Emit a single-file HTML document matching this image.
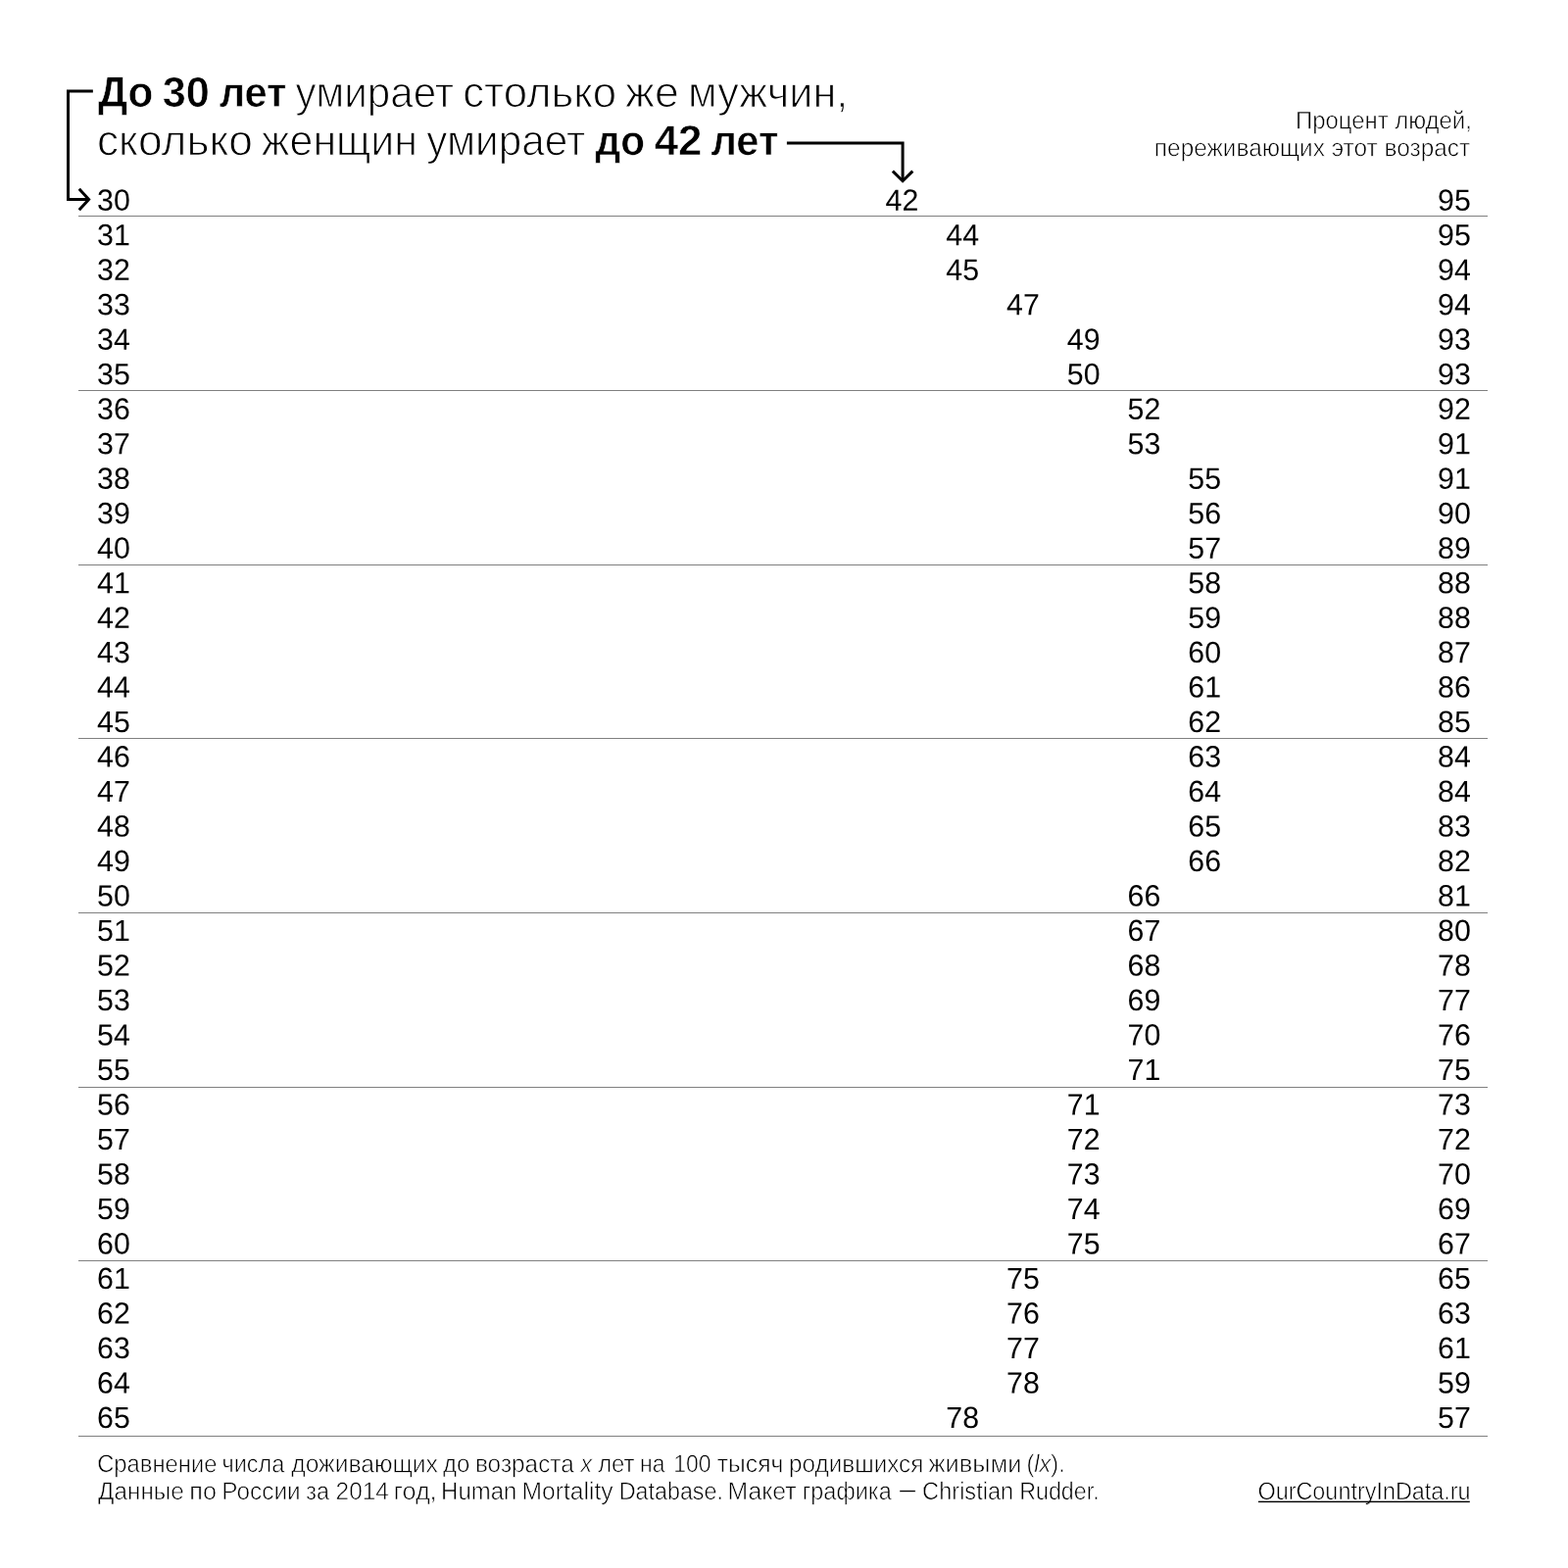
<!DOCTYPE html>
<html lang="ru"><head><meta charset="utf-8"><title>До 30 лет умирает столько же мужчин, сколько женщин умирает до 42 лет</title>
<style>
html,body{margin:0;padding:0;background:#fff}
svg{display:block}
text{font-family:"Liberation Sans",sans-serif;fill:#000}
.b{font-weight:700;stroke:#fff;stroke-width:0.6px}
.l{stroke:#fff;stroke-width:1.1px}
.s{stroke:#fff;stroke-width:0.6px}
.n{font-size:30.7px}
.rule{stroke:#808080;stroke-width:1}
.arr{fill:none;stroke:#000;stroke-width:3}
</style></head><body>
<svg width="1600" height="1600" viewBox="0 0 1600 1600">
<rect width="1600" height="1600" fill="#fff"/>
<line class="rule" x1="80" y1="220.5" x2="1518" y2="220.5"/>
<line class="rule" x1="80" y1="398.5" x2="1518" y2="398.5"/>
<line class="rule" x1="80" y1="576.5" x2="1518" y2="576.5"/>
<line class="rule" x1="80" y1="753.5" x2="1518" y2="753.5"/>
<line class="rule" x1="80" y1="931.5" x2="1518" y2="931.5"/>
<line class="rule" x1="80" y1="1109.5" x2="1518" y2="1109.5"/>
<line class="rule" x1="80" y1="1286.5" x2="1518" y2="1286.5"/>
<line class="rule" x1="80" y1="1465.5" x2="1518" y2="1465.5"/>
<path class="arr" d="M94.85 92.95 H69.5 V203.5 H90.6"/>
<path class="arr" d="M80.8 192.7 L90.6 203.5 L80.8 214.3"/>
<path class="arr" d="M802.9 145.9 H921.1 V184.7"/>
<path class="arr" d="M910.9 174.6 L921.1 184.7 L931.3 174.6"/>
<text class="b" font-size="43.75" transform="matrix(0.9650 0.0005 0 1 99.88 108.85)">До</text>
<text class="b" font-size="43.12" transform="matrix(1.0034 0.0005 0 1 165.74 108.85)">30</text>
<text class="b" font-size="42.42" transform="matrix(0.9794 0.0005 0 1 223.67 108.85)">лет</text>
<text class="l" font-size="43.75" transform="matrix(0.9646 0.0005 0 1 301.54 109.10)">умирает</text>
<text class="l" font-size="43.75" transform="matrix(0.9993 0.0005 0 1 472.25 109.10)">столько</text>
<text class="l" font-size="43.75" transform="matrix(1.0211 0.0005 0 1 638.12 109.10)">же</text>
<text class="l" font-size="43.75" transform="matrix(0.9882 0.0005 0 1 702.04 109.10)">мужчин,</text>
<text class="l" font-size="43.75" transform="matrix(1.0122 0.0005 0 1 98.97 158.15)">сколько</text>
<text class="l" font-size="43.75" transform="matrix(0.9803 0.0005 0 1 266.87 158.15)">женщин</text>
<text class="l" font-size="43.75" transform="matrix(0.9679 0.0005 0 1 435.28 158.15)">умирает</text>
<text class="b" font-size="42.42" transform="matrix(0.9572 0.0005 0 1 607.42 157.90)">до</text>
<text class="b" font-size="43.12" transform="matrix(1.0178 0.0005 0 1 667.68 157.90)">42</text>
<text class="b" font-size="42.42" transform="matrix(0.9809 0.0005 0 1 725.46 157.90)">лет</text>
<text class="s" font-size="25.19" transform="matrix(0.9494 0.0005 0 1 1321.96 131.20)">Процент людей,</text>
<text class="s" font-size="25.19" transform="matrix(0.9688 0.0005 0 1 1177.86 159.20)">переживающих этот возраст</text>
<text class="s" font-size="25.19" transform="matrix(0.9439 0.0005 0 1 99.18 1502.10)">Сравнение</text>
<text class="s" font-size="25.19" transform="matrix(0.9308 0.0005 0 1 226.47 1502.10)">числа</text>
<text class="s" font-size="25.19" transform="matrix(0.9802 0.0005 0 1 297.26 1502.10)">доживающих</text>
<text class="s" font-size="25.19" transform="matrix(0.9570 0.0005 0 1 452.02 1502.10)">до</text>
<text class="s" font-size="25.19" transform="matrix(0.9676 0.0005 0 1 484.96 1502.10)">возраста</text>
<text class="s" font-size="25.19" font-style="italic" transform="matrix(0.9145 0.0005 0 1 592.52 1502.10)">x</text>
<text class="s" font-size="25.19" transform="matrix(0.9490 0.0005 0 1 610.13 1502.10)">лет</text>
<text class="s" font-size="25.19" transform="matrix(0.9145 0.0005 0 1 653.10 1502.10)">на</text>
<text class="s" font-size="25.19" transform="matrix(0.9145 0.0005 0 1 687.24 1502.10)">100</text>
<text class="s" font-size="25.19" transform="matrix(0.9811 0.0005 0 1 731.76 1502.10)">тысяч</text>
<text class="s" font-size="25.19" transform="matrix(0.9653 0.0005 0 1 804.97 1502.10)">родившихся</text>
<text class="s" font-size="25.19" transform="matrix(1.0108 0.0005 0 1 947.60 1502.10)">живыми</text>
<text class="s" font-size="25.19" transform="matrix(0.9624 0.0005 0 1 100.12 1530.00)">Данные</text>
<text class="s" font-size="25.19" transform="matrix(1.0023 0.0005 0 1 193.22 1530.00)">по</text>
<text class="s" font-size="25.19" transform="matrix(0.9682 0.0005 0 1 226.33 1530.00)">России</text>
<text class="s" font-size="25.19" transform="matrix(0.9278 0.0005 0 1 312.17 1530.00)">за</text>
<text class="s" font-size="25.19" transform="matrix(0.9720 0.0005 0 1 342.54 1530.00)">2014</text>
<text class="s" font-size="25.19" transform="matrix(1.0023 0.0005 0 1 401.75 1530.00)">год,</text>
<text class="s" font-size="25.19" transform="matrix(0.9524 0.0005 0 1 450.12 1530.00)">Human</text>
<text class="s" font-size="25.19" transform="matrix(0.9783 0.0005 0 1 532.55 1530.00)">Mortality</text>
<text class="s" font-size="25.19" transform="matrix(0.9257 0.0005 0 1 631.69 1530.00)">Database.</text>
<text class="s" font-size="25.19" transform="matrix(0.9838 0.0005 0 1 742.54 1530.00)">Макет</text>
<text class="s" font-size="25.19" transform="matrix(0.9323 0.0005 0 1 818.74 1530.00)">графика</text>
<text class="s" font-size="25.19" transform="matrix(0.6388 0.0005 0 1 917.94 1528.00)">—</text>
<text class="s" font-size="25.19" transform="matrix(0.9375 0.0005 0 1 941.09 1530.00)">Christian</text>
<text class="s" font-size="25.19" transform="matrix(0.9237 0.0005 0 1 1040.19 1530.00)">Rudder.</text>
<text class="s" font-size="25.19" transform="matrix(0.9333 0.0005 0 1 1047.53 1502.10)">(<tspan font-style="italic">lx</tspan>).</text>
<text class="s" font-size="25.19" transform="matrix(0.9296 0.0005 0 1 1283.46 1530.00)">OurCountryInData.ru</text>
<rect x="1284" y="1531.7" width="215.8" height="1.4" fill="#000"/>
<text class="n" transform="matrix(0.9893 0.0005 0 1 99.03 214.75)">30</text>
<text class="n" transform="matrix(0.9893 0.0005 0 1 903.50 214.75)">42</text>
<text class="n" transform="matrix(0.9893 0.0005 0 1 1467.08 214.75)">95</text>
<text class="n" transform="matrix(0.9893 0.0005 0 1 99.03 250.24)">31</text>
<text class="n" transform="matrix(0.9893 0.0005 0 1 965.25 250.24)">44</text>
<text class="n" transform="matrix(0.9893 0.0005 0 1 1467.08 250.24)">95</text>
<text class="n" transform="matrix(0.9893 0.0005 0 1 99.03 285.73)">32</text>
<text class="n" transform="matrix(0.9893 0.0005 0 1 965.25 285.73)">45</text>
<text class="n" transform="matrix(0.9893 0.0005 0 1 1467.08 285.73)">94</text>
<text class="n" transform="matrix(0.9893 0.0005 0 1 99.03 321.22)">33</text>
<text class="n" transform="matrix(0.9893 0.0005 0 1 1027.00 321.22)">47</text>
<text class="n" transform="matrix(0.9893 0.0005 0 1 1467.08 321.22)">94</text>
<text class="n" transform="matrix(0.9893 0.0005 0 1 99.03 356.71)">34</text>
<text class="n" transform="matrix(0.9893 0.0005 0 1 1088.75 356.71)">49</text>
<text class="n" transform="matrix(0.9893 0.0005 0 1 1467.08 356.71)">93</text>
<text class="n" transform="matrix(0.9893 0.0005 0 1 99.03 392.20)">35</text>
<text class="n" transform="matrix(0.9893 0.0005 0 1 1088.75 392.20)">50</text>
<text class="n" transform="matrix(0.9893 0.0005 0 1 1467.08 392.20)">93</text>
<text class="n" transform="matrix(0.9893 0.0005 0 1 99.03 427.69)">36</text>
<text class="n" transform="matrix(0.9893 0.0005 0 1 1150.50 427.69)">52</text>
<text class="n" transform="matrix(0.9893 0.0005 0 1 1467.08 427.69)">92</text>
<text class="n" transform="matrix(0.9893 0.0005 0 1 99.03 463.18)">37</text>
<text class="n" transform="matrix(0.9893 0.0005 0 1 1150.50 463.18)">53</text>
<text class="n" transform="matrix(0.9893 0.0005 0 1 1467.08 463.18)">91</text>
<text class="n" transform="matrix(0.9893 0.0005 0 1 99.03 498.67)">38</text>
<text class="n" transform="matrix(0.9893 0.0005 0 1 1212.25 498.67)">55</text>
<text class="n" transform="matrix(0.9893 0.0005 0 1 1467.08 498.67)">91</text>
<text class="n" transform="matrix(0.9893 0.0005 0 1 99.03 534.16)">39</text>
<text class="n" transform="matrix(0.9893 0.0005 0 1 1212.25 534.16)">56</text>
<text class="n" transform="matrix(0.9893 0.0005 0 1 1467.08 534.16)">90</text>
<text class="n" transform="matrix(0.9893 0.0005 0 1 99.03 569.65)">40</text>
<text class="n" transform="matrix(0.9893 0.0005 0 1 1212.25 569.65)">57</text>
<text class="n" transform="matrix(0.9893 0.0005 0 1 1467.08 569.65)">89</text>
<text class="n" transform="matrix(0.9893 0.0005 0 1 99.03 605.14)">41</text>
<text class="n" transform="matrix(0.9893 0.0005 0 1 1212.25 605.14)">58</text>
<text class="n" transform="matrix(0.9893 0.0005 0 1 1467.08 605.14)">88</text>
<text class="n" transform="matrix(0.9893 0.0005 0 1 99.03 640.63)">42</text>
<text class="n" transform="matrix(0.9893 0.0005 0 1 1212.25 640.63)">59</text>
<text class="n" transform="matrix(0.9893 0.0005 0 1 1467.08 640.63)">88</text>
<text class="n" transform="matrix(0.9893 0.0005 0 1 99.03 676.12)">43</text>
<text class="n" transform="matrix(0.9893 0.0005 0 1 1212.25 676.12)">60</text>
<text class="n" transform="matrix(0.9893 0.0005 0 1 1467.08 676.12)">87</text>
<text class="n" transform="matrix(0.9893 0.0005 0 1 99.03 711.61)">44</text>
<text class="n" transform="matrix(0.9893 0.0005 0 1 1212.25 711.61)">61</text>
<text class="n" transform="matrix(0.9893 0.0005 0 1 1467.08 711.61)">86</text>
<text class="n" transform="matrix(0.9893 0.0005 0 1 99.03 747.10)">45</text>
<text class="n" transform="matrix(0.9893 0.0005 0 1 1212.25 747.10)">62</text>
<text class="n" transform="matrix(0.9893 0.0005 0 1 1467.08 747.10)">85</text>
<text class="n" transform="matrix(0.9893 0.0005 0 1 99.03 782.59)">46</text>
<text class="n" transform="matrix(0.9893 0.0005 0 1 1212.25 782.59)">63</text>
<text class="n" transform="matrix(0.9893 0.0005 0 1 1467.08 782.59)">84</text>
<text class="n" transform="matrix(0.9893 0.0005 0 1 99.03 818.08)">47</text>
<text class="n" transform="matrix(0.9893 0.0005 0 1 1212.25 818.08)">64</text>
<text class="n" transform="matrix(0.9893 0.0005 0 1 1467.08 818.08)">84</text>
<text class="n" transform="matrix(0.9893 0.0005 0 1 99.03 853.57)">48</text>
<text class="n" transform="matrix(0.9893 0.0005 0 1 1212.25 853.57)">65</text>
<text class="n" transform="matrix(0.9893 0.0005 0 1 1467.08 853.57)">83</text>
<text class="n" transform="matrix(0.9893 0.0005 0 1 99.03 889.06)">49</text>
<text class="n" transform="matrix(0.9893 0.0005 0 1 1212.25 889.06)">66</text>
<text class="n" transform="matrix(0.9893 0.0005 0 1 1467.08 889.06)">82</text>
<text class="n" transform="matrix(0.9893 0.0005 0 1 99.03 924.55)">50</text>
<text class="n" transform="matrix(0.9893 0.0005 0 1 1150.50 924.55)">66</text>
<text class="n" transform="matrix(0.9893 0.0005 0 1 1467.08 924.55)">81</text>
<text class="n" transform="matrix(0.9893 0.0005 0 1 99.03 960.04)">51</text>
<text class="n" transform="matrix(0.9893 0.0005 0 1 1150.50 960.04)">67</text>
<text class="n" transform="matrix(0.9893 0.0005 0 1 1467.08 960.04)">80</text>
<text class="n" transform="matrix(0.9893 0.0005 0 1 99.03 995.53)">52</text>
<text class="n" transform="matrix(0.9893 0.0005 0 1 1150.50 995.53)">68</text>
<text class="n" transform="matrix(0.9893 0.0005 0 1 1467.08 995.53)">78</text>
<text class="n" transform="matrix(0.9893 0.0005 0 1 99.03 1031.02)">53</text>
<text class="n" transform="matrix(0.9893 0.0005 0 1 1150.50 1031.02)">69</text>
<text class="n" transform="matrix(0.9893 0.0005 0 1 1467.08 1031.02)">77</text>
<text class="n" transform="matrix(0.9893 0.0005 0 1 99.03 1066.51)">54</text>
<text class="n" transform="matrix(0.9893 0.0005 0 1 1150.50 1066.51)">70</text>
<text class="n" transform="matrix(0.9893 0.0005 0 1 1467.08 1066.51)">76</text>
<text class="n" transform="matrix(0.9893 0.0005 0 1 99.03 1102.00)">55</text>
<text class="n" transform="matrix(0.9893 0.0005 0 1 1150.50 1102.00)">71</text>
<text class="n" transform="matrix(0.9893 0.0005 0 1 1467.08 1102.00)">75</text>
<text class="n" transform="matrix(0.9893 0.0005 0 1 99.03 1137.49)">56</text>
<text class="n" transform="matrix(0.9893 0.0005 0 1 1088.75 1137.49)">71</text>
<text class="n" transform="matrix(0.9893 0.0005 0 1 1467.08 1137.49)">73</text>
<text class="n" transform="matrix(0.9893 0.0005 0 1 99.03 1172.98)">57</text>
<text class="n" transform="matrix(0.9893 0.0005 0 1 1088.75 1172.98)">72</text>
<text class="n" transform="matrix(0.9893 0.0005 0 1 1467.08 1172.98)">72</text>
<text class="n" transform="matrix(0.9893 0.0005 0 1 99.03 1208.47)">58</text>
<text class="n" transform="matrix(0.9893 0.0005 0 1 1088.75 1208.47)">73</text>
<text class="n" transform="matrix(0.9893 0.0005 0 1 1467.08 1208.47)">70</text>
<text class="n" transform="matrix(0.9893 0.0005 0 1 99.03 1243.96)">59</text>
<text class="n" transform="matrix(0.9893 0.0005 0 1 1088.75 1243.96)">74</text>
<text class="n" transform="matrix(0.9893 0.0005 0 1 1467.08 1243.96)">69</text>
<text class="n" transform="matrix(0.9893 0.0005 0 1 99.03 1279.45)">60</text>
<text class="n" transform="matrix(0.9893 0.0005 0 1 1088.75 1279.45)">75</text>
<text class="n" transform="matrix(0.9893 0.0005 0 1 1467.08 1279.45)">67</text>
<text class="n" transform="matrix(0.9893 0.0005 0 1 99.03 1314.94)">61</text>
<text class="n" transform="matrix(0.9893 0.0005 0 1 1027.00 1314.94)">75</text>
<text class="n" transform="matrix(0.9893 0.0005 0 1 1467.08 1314.94)">65</text>
<text class="n" transform="matrix(0.9893 0.0005 0 1 99.03 1350.43)">62</text>
<text class="n" transform="matrix(0.9893 0.0005 0 1 1027.00 1350.43)">76</text>
<text class="n" transform="matrix(0.9893 0.0005 0 1 1467.08 1350.43)">63</text>
<text class="n" transform="matrix(0.9893 0.0005 0 1 99.03 1385.92)">63</text>
<text class="n" transform="matrix(0.9893 0.0005 0 1 1027.00 1385.92)">77</text>
<text class="n" transform="matrix(0.9893 0.0005 0 1 1467.08 1385.92)">61</text>
<text class="n" transform="matrix(0.9893 0.0005 0 1 99.03 1421.41)">64</text>
<text class="n" transform="matrix(0.9893 0.0005 0 1 1027.00 1421.41)">78</text>
<text class="n" transform="matrix(0.9893 0.0005 0 1 1467.08 1421.41)">59</text>
<text class="n" transform="matrix(0.9893 0.0005 0 1 99.03 1456.90)">65</text>
<text class="n" transform="matrix(0.9893 0.0005 0 1 965.25 1456.90)">78</text>
<text class="n" transform="matrix(0.9893 0.0005 0 1 1467.08 1456.90)">57</text>
</svg></body></html>
